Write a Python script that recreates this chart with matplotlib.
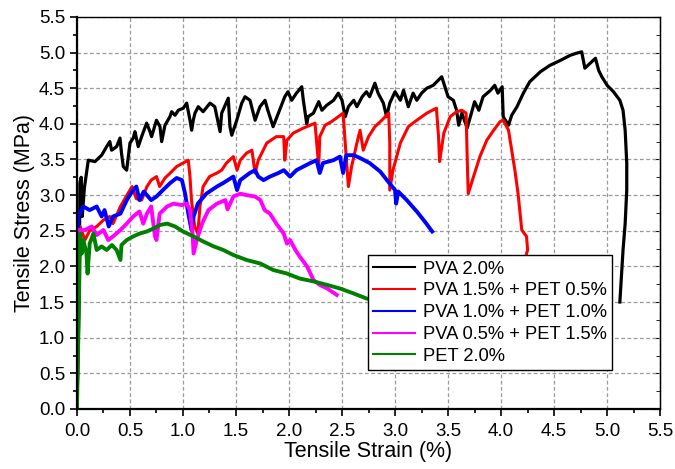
import matplotlib
matplotlib.use('Agg')
import matplotlib.pyplot as plt
from matplotlib.ticker import MultipleLocator, FormatStrFormatter

plt.rcParams['font.family'] = ['Liberation Sans', 'DejaVu Sans']

# PVA 2.0%
pva20_x = [0.0, 0.02, 0.028, 0.04, 0.05, 0.07, 0.107, 0.17, 0.233, 0.28, 0.31, 0.327,
           0.374, 0.406, 0.42, 0.437, 0.469, 0.5, 0.531, 0.547, 0.578, 0.61, 0.657,
           0.689, 0.704, 0.75, 0.783, 0.799, 0.83, 0.877, 0.893, 0.925, 0.956, 1.003,
           1.035, 1.066, 1.082, 1.097, 1.113, 1.144, 1.19, 1.255, 1.30, 1.35, 1.365,
           1.427, 1.443, 1.46, 1.507, 1.554, 1.585, 1.632, 1.68, 1.726, 1.774, 1.80,
           1.85, 1.90, 1.96, 1.99, 2.025, 2.07, 2.12, 2.135, 2.167, 2.18, 2.23, 2.28,
           2.31, 2.355, 2.42, 2.465, 2.50, 2.53, 2.56, 2.61, 2.64, 2.69, 2.73, 2.76,
           2.81, 2.84, 2.89, 2.92, 2.95, 3.0, 3.05, 3.08, 3.125, 3.17, 3.205, 3.25,
           3.30, 3.36, 3.44, 3.47, 3.50, 3.55, 3.58, 3.60, 3.63, 3.68, 3.71, 3.75,
           3.79, 3.83, 3.90, 3.94, 3.97, 4.01, 4.02, 4.07, 4.10, 4.15, 4.21, 4.27,
           4.37, 4.46, 4.56, 4.65, 4.71, 4.76, 4.79, 4.84, 4.89, 4.92, 4.95, 5.0,
           5.06, 5.12, 5.15, 5.17, 5.185, 5.185, 5.17, 5.15, 5.12]
pva20_y = [0.0, 1.5, 3.17, 3.25, 2.7, 3.1, 3.49, 3.47, 3.56, 3.68, 3.75, 3.63,
           3.68, 3.80, 3.59, 3.40, 3.35, 3.73, 3.80, 3.89, 3.68, 3.82, 4.01,
           3.89, 3.82, 4.05, 3.96, 3.75, 3.98, 4.10, 4.17, 4.12, 4.19, 4.22,
           4.29, 4.05, 3.91, 4.05, 4.15, 4.24, 4.17, 4.29, 4.24, 3.89, 4.15,
           4.36, 3.96, 3.84, 4.05, 4.29, 4.38, 4.33, 4.05, 4.24, 4.33, 4.19,
           3.96, 4.15, 4.38, 4.45, 4.33, 4.43, 4.52, 4.33, 4.0, 4.10, 4.15, 4.31,
           4.19, 4.26, 4.33, 4.43, 4.33, 4.10, 4.24, 4.33, 4.24, 4.38, 4.45, 4.38,
           4.57, 4.43, 4.29, 4.10, 4.29, 4.45, 4.33, 4.47, 4.24, 4.43, 4.33, 4.43,
           4.50, 4.54, 4.66, 4.52, 4.38, 4.33, 4.19, 3.98, 4.15, 3.94, 4.10, 4.31,
           4.19, 4.38, 4.47, 4.54, 4.43, 4.52, 4.10, 3.98, 4.12, 4.24, 4.43, 4.59,
           4.73, 4.82, 4.89, 4.96, 4.99, 5.01, 4.78, 4.85, 4.92, 4.75, 4.66, 4.54,
           4.45, 4.33, 4.19, 3.91, 3.45, 3.07, 2.60, 2.23, 1.50]

# PVA 1.5% + PET 0.5%
pva15_x = [0.0, 0.01, 0.03, 0.075, 0.12, 0.186, 0.25, 0.31, 0.34, 0.41, 0.48, 0.52,
           0.56, 0.61, 0.66, 0.70, 0.75, 0.78, 0.83, 0.88, 0.94, 1.0, 1.05, 1.066,
           1.08, 1.11, 1.14, 1.16, 1.19, 1.25, 1.32, 1.365, 1.41, 1.475, 1.51, 1.54,
           1.60, 1.65, 1.68, 1.71, 1.79, 1.88, 1.95, 1.96, 1.98, 2.04, 2.135, 2.20,
           2.245, 2.28, 2.29, 2.34, 2.40, 2.465, 2.51, 2.53, 2.56, 2.59, 2.64, 2.67,
           2.70, 2.75, 2.81, 2.875, 2.94, 2.95, 2.95, 2.98, 3.05, 3.125, 3.205, 3.30,
           3.39, 3.41, 3.42, 3.46, 3.52, 3.58, 3.63, 3.67, 3.68, 3.69, 3.74, 3.80,
           3.865, 3.93, 3.99, 4.02, 4.07, 4.10, 4.13, 4.16, 4.195, 4.24, 4.25, 4.24]
pva15_y = [0.0, 1.2, 2.56, 2.37, 2.5, 2.56, 2.65, 2.70, 2.60, 2.84, 3.02, 3.12,
           2.95, 2.93, 3.12, 3.21, 3.26, 3.12, 3.24, 3.31, 3.40, 3.45, 3.49, 3.26,
           2.93, 2.56, 2.46, 2.84, 3.12, 3.26, 3.31, 3.35, 3.45, 3.54, 3.35, 3.49,
           3.59, 3.63, 3.31, 3.49, 3.73, 3.82, 3.82, 3.49, 3.77, 3.87, 3.94, 3.98,
           4.01, 3.40, 3.82, 3.98, 4.03, 4.10, 4.15, 3.73, 3.12, 3.40, 3.73, 3.91,
           3.63, 3.82, 3.96, 4.05, 4.15, 3.73, 3.07, 3.35, 3.73, 3.96, 4.05, 4.15,
           4.22, 3.82, 3.47, 3.87, 4.10, 4.17, 4.19, 4.15, 3.54, 3.02, 3.26, 3.54,
           3.77, 3.91, 4.03, 4.05, 3.91, 3.63, 3.35, 3.02, 2.51, 2.42, 2.23, 2.18]

# PVA 1.0% + PET 1.0%
pva10_x = [0.0, 0.005, 0.012, 0.06, 0.12, 0.186, 0.233, 0.26, 0.30, 0.34, 0.41, 0.47,
           0.53, 0.56, 0.59, 0.63, 0.70, 0.75, 0.81, 0.88, 0.94, 0.99, 1.02, 1.05,
           1.08, 1.10, 1.14, 1.22, 1.32, 1.38, 1.475, 1.51, 1.54, 1.63, 1.68, 1.71,
           1.76, 1.82, 1.90, 1.95, 2.01, 2.07, 2.135, 2.20, 2.26, 2.29, 2.32, 2.42,
           2.48, 2.51, 2.54, 2.61, 2.67, 2.76, 2.86, 2.95, 3.0, 3.01, 3.03, 3.11,
           3.205, 3.28, 3.35]
pva10_y = [0.0, 1.8, 2.70, 2.84, 2.79, 2.84, 2.70, 2.79, 2.56, 2.70, 2.74, 2.93,
           3.07, 3.12, 2.93, 3.05, 2.93, 2.98, 3.07, 3.17, 3.24, 3.21, 3.02, 2.74,
           2.51, 2.70, 2.88, 3.02, 3.12, 3.17, 3.26, 3.07, 3.21, 3.31, 3.35, 3.26,
           3.21, 3.26, 3.31, 3.35, 3.26, 3.35, 3.40, 3.45, 3.49, 3.31, 3.45, 3.49,
           3.54, 3.31, 3.56, 3.56, 3.52, 3.45, 3.33, 3.16, 3.07, 2.88, 3.05, 2.93,
           2.77, 2.63, 2.49]

# PVA 0.5% + PET 1.5%
pva05_x = [0.0, 0.005, 0.012, 0.075, 0.14, 0.186, 0.25, 0.295, 0.34, 0.41, 0.47, 0.53,
           0.59, 0.625, 0.66, 0.70, 0.736, 0.75, 0.78, 0.85, 0.91, 0.99, 1.035, 1.066,
           1.09, 1.10, 1.13, 1.18, 1.24, 1.32, 1.40, 1.42, 1.475, 1.54, 1.60, 1.68,
           1.73, 1.77, 1.82, 1.88, 1.95, 1.98, 2.01, 2.06, 2.10, 2.17, 2.23, 2.29,
           2.36, 2.45]
pva05_y = [0.0, 1.5, 2.51, 2.51, 2.56, 2.44, 2.51, 2.37, 2.42, 2.51, 2.60, 2.70,
           2.77, 2.60, 2.74, 2.84, 2.42, 2.37, 2.74, 2.84, 2.88, 2.86, 2.88, 2.79,
           2.46, 2.18, 2.37, 2.60, 2.79, 2.88, 2.93, 2.80, 2.98, 3.02, 3.0, 2.98,
           2.93, 2.79, 2.74, 2.60, 2.46, 2.32, 2.37, 2.23, 2.14, 2.0, 1.81, 1.74,
           1.69, 1.60]

# PET 2.0%
pet20_x = [0.0, 0.015, 0.03, 0.045, 0.06, 0.09, 0.10, 0.12, 0.155, 0.186, 0.233, 0.28,
           0.33, 0.374, 0.41, 0.42, 0.47, 0.53, 0.59, 0.66, 0.72, 0.78, 0.85, 0.925,
           1.0, 1.10, 1.19, 1.29, 1.38, 1.475, 1.60, 1.73, 1.85, 1.98, 2.10, 2.23,
           2.36, 2.48, 2.61, 2.73, 2.9]
pet20_y = [0.0, 1.2, 2.46, 2.18, 2.37, 2.18, 1.90, 2.32, 2.46, 2.23, 2.28, 2.23,
           2.30, 2.23, 2.09, 2.30, 2.37, 2.42, 2.46, 2.49, 2.53, 2.58, 2.60, 2.56,
           2.49, 2.42, 2.35, 2.28, 2.23, 2.16, 2.09, 2.04, 1.95, 1.90, 1.83, 1.79,
           1.74, 1.69, 1.62, 1.55, 1.48]

fig = plt.figure(figsize=(6.75, 4.69), dpi=100)
ax = fig.add_axes([0.114, 0.128, 0.864, 0.836])

ax.plot(pva20_x, pva20_y, color='black', lw=2.3, label='PVA 2.0%')
ax.plot(pva15_x, pva15_y, color='red', lw=2.2, label='PVA 1.5% + PET 0.5%')
ax.plot(pva10_x, pva10_y, color='blue', lw=2.8, label='PVA 1.0% + PET 1.0%')
ax.plot(pva05_x, pva05_y, color='magenta', lw=2.8, label='PVA 0.5% + PET 1.5%')
ax.plot(pet20_x, pet20_y, color='green', lw=2.8, label='PET 2.0%')

ax.set_xlim(0, 5.5)
ax.set_ylim(0, 5.5)
ax.xaxis.set_major_locator(MultipleLocator(0.5))
ax.xaxis.set_minor_locator(MultipleLocator(0.25))
ax.yaxis.set_major_locator(MultipleLocator(0.5))
ax.yaxis.set_minor_locator(MultipleLocator(0.25))
ax.xaxis.set_major_formatter(FormatStrFormatter('%.1f'))
ax.yaxis.set_major_formatter(FormatStrFormatter('%.1f'))

ax.grid(True, which='major', ls=(0, (3, 2)), color='#999999', lw=0.9)
ax.tick_params(which='both', direction='out', labelsize=13.5, width=1.2)
ax.tick_params(which='major', length=5)
ax.tick_params(which='minor', length=3)
ax.tick_params(axis='x', pad=5)
for side in ['left', 'bottom']:
    ax.spines[side].set_linewidth(1.6)
for side in ['right', 'top']:
    ax.spines[side].set_linewidth(1.0)

# inward ticks on the right side
axr = ax.secondary_yaxis('right')
axr.yaxis.set_major_locator(MultipleLocator(0.5))
axr.yaxis.set_minor_locator(MultipleLocator(0.25))
axr.tick_params(which='both', direction='in', labelright=False)
axr.tick_params(which='major', length=5)
axr.tick_params(which='minor', length=3)

ax.set_xlabel('Tensile Strain (%)', fontsize=15.5, labelpad=1)
ax.set_ylabel('Tensile Stress (MPa)', fontsize=15.5, labelpad=3)

leg = ax.legend(loc='upper left', bbox_to_anchor=(0.545, 0.456),
                bbox_transform=fig.transFigure, fontsize=13.2, frameon=True,
                fancybox=False, framealpha=1, edgecolor='black',
                handlelength=2.25, borderpad=0.3, labelspacing=0.26,
                handletextpad=0.45, borderaxespad=0)
leg.get_frame().set_linewidth(1.0)
for line in leg.get_lines():
    line.set_linewidth(1.5)

plt.savefig('out.png', dpi=100)
